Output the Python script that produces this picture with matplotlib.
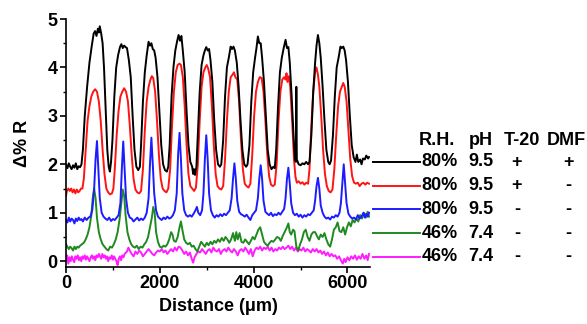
import matplotlib
matplotlib.use("Agg")
import matplotlib.pyplot as plt
from matplotlib.lines import Line2D
from matplotlib.ticker import MultipleLocator

plt.rcParams["font.family"] = ["Liberation Sans", "DejaVu Sans"]
plt.rcParams["font.weight"] = "bold"

# ---- reflectance profiles (distance in um, delta %R) ----
black_x = [0, 30, 60, 90, 120, 150, 180, 210, 240, 270, 300, 330,
           360, 400, 450, 500, 550, 590, 620, 650, 680, 700, 720, 750, 780, 810, 850, 880, 910, 935, 960,
           990, 1030, 1070, 1110, 1150, 1180, 1210, 1240, 1270, 1300, 1340, 1380, 1420, 1460, 1500, 1540, 1575,
           1600, 1640, 1680, 1720, 1760, 1790, 1820, 1850, 1880, 1910, 1950, 1990, 2030, 2070, 2110, 2150, 2180,
           2210, 2250, 2290, 2330, 2370, 2400, 2430, 2460, 2490, 2530, 2570, 2610, 2650, 2690, 2710, 2730, 2750, 2780,
           2810, 2850, 2890, 2930, 2960, 2990, 3020, 3050, 3080, 3120, 3160, 3200, 3240, 3280, 3310,
           3350, 3390, 3430, 3470, 3510, 3540, 3570, 3600, 3640, 3680, 3720, 3760, 3800, 3840, 3870,
           3910, 3950, 3990, 4030, 4060, 4090, 4120, 4150, 4180, 4220, 4260, 4300, 4340, 4380, 4420, 4450,
           4480, 4520, 4560, 4600, 4640, 4680, 4710, 4740, 4770, 4810, 4850, 4880, 4900, 4910, 4920, 4960, 5000,
           5040, 5080, 5120, 5160,
           5190, 5230, 5270, 5310, 5340, 5370, 5400, 5430, 5470, 5510, 5550, 5590, 5620, 5650,
           5690, 5730, 5770, 5810, 5850, 5880, 5910, 5940, 5970, 6010, 6050, 6090, 6130, 6170, 6200, 6230,
           6270, 6300, 6330, 6370, 6400, 6440, 6460]
black_y = [2.0, 1.92, 2.02, 1.95, 1.9, 1.98, 1.93, 2.02, 1.9, 1.96, 1.94, 2.0,
           2.3, 3.0, 3.6, 4.1, 4.45, 4.7, 4.75, 4.65, 4.8, 4.72, 4.85, 4.7, 4.5, 4.0, 3.0, 2.3, 1.95, 1.85, 2.05,
           2.5, 3.4, 4.0, 4.25, 4.42, 4.48, 4.4, 4.45, 4.42, 4.4, 4.15, 3.8, 3.0, 2.3, 1.95, 1.88, 1.95,
           2.4, 3.3, 3.9, 4.25, 4.53, 4.45, 4.5, 4.38, 4.35, 4.2, 3.8, 3.1, 2.4, 2.0, 1.88, 1.85, 1.95,
           2.4, 3.4, 4.0, 4.35, 4.55, 4.67, 4.55, 4.65, 4.35, 3.9, 3.1, 2.4, 2.05, 1.95, 1.8, 1.9, 1.78, 1.95,
           2.6, 3.5, 4.05, 4.25, 4.35, 4.42, 4.35, 4.38, 4.15, 3.7, 2.9, 2.3, 2.0, 1.95, 2.0,
           2.5, 3.4, 4.0, 4.2, 4.43, 4.38, 4.43, 4.35, 4.1, 3.6, 2.9, 2.3, 2.0, 1.95, 2.0,
           2.4, 3.3, 3.9, 4.2, 4.4, 4.64, 4.5, 4.5, 4.2, 3.7, 3.0, 2.3, 2.0, 1.9, 1.95, 1.92,
           2.3, 3.2, 3.9, 4.2, 4.4, 4.57, 4.4, 4.42, 4.1, 3.4, 2.6, 2.1, 2.05, 3.6, 2.1, 2.0, 1.98,
           2.02, 2.0, 2.05, 2.0,
           2.05, 2.6, 3.5, 4.1, 4.45, 4.67, 4.5, 4.2, 3.6, 2.9, 2.3, 2.05, 2.0, 2.08,
           2.6, 3.4, 4.0, 4.2, 4.43, 4.4, 4.43, 4.35, 4.15, 3.7, 3.0, 2.4, 2.15, 2.05, 2.2, 2.05,
           2.1, 2.0, 2.12, 2.1, 2.18, 2.12, 2.15]

red_x = [0, 20, 50, 80, 110, 140, 170, 200, 230, 260, 290, 320, 350,
         380, 420, 460, 500, 540, 580, 620, 660, 700, 740, 780, 820, 860, 900, 940, 980, 1010,
         1040, 1080, 1120, 1160, 1200, 1240, 1280, 1320, 1360, 1400, 1440, 1480, 1520, 1560, 1600,
         1640, 1680, 1720, 1760, 1800, 1830, 1860, 1900, 1940, 1980, 2020, 2060, 2100, 2140, 2180,
         2220, 2260, 2300, 2340, 2380, 2420, 2450, 2490, 2530, 2570, 2610, 2650, 2690, 2730, 2770,
         2810, 2850, 2890, 2930, 2970, 3000, 3030, 3070, 3110, 3150, 3190, 3230, 3270, 3310, 3350,
         3390, 3430, 3470, 3510, 3550, 3580, 3610, 3650, 3690, 3730, 3770, 3810, 3850, 3890, 3930,
         3970, 4010, 4050, 4090, 4130, 4170, 4210, 4250, 4290, 4330, 4370, 4410, 4450,
         4490, 4530, 4570, 4610, 4650, 4680, 4700, 4720, 4750, 4780, 4820, 4860, 4890, 4920, 4960, 5000,
         5040, 5080, 5120, 5160,
         5190, 5230, 5270, 5310, 5340, 5370, 5400, 5440, 5480, 5520, 5560, 5600, 5640, 5680,
         5720, 5760, 5800, 5840, 5880, 5910, 5940, 5980, 6020, 6060, 6100, 6140, 6180, 6220, 6260,
         6300, 6340, 6380, 6420, 6460]
red_y = [1.35, 1.45, 1.5, 1.45, 1.5, 1.42, 1.48, 1.4, 1.48, 1.42, 1.45, 1.5, 1.5,
         1.7, 2.3, 2.9, 3.2, 3.4, 3.5, 3.55, 3.5, 3.3, 2.9, 2.3, 1.8, 1.5, 1.42, 1.38, 1.4, 1.5,
         1.9, 2.6, 3.1, 3.4, 3.5, 3.57, 3.5, 3.3, 2.8, 2.2, 1.7, 1.48, 1.42, 1.4, 1.45,
         1.9, 2.7, 3.3, 3.6, 3.75, 3.82, 3.78, 3.5, 2.9, 2.2, 1.7, 1.5, 1.45, 1.42, 1.5,
         1.9, 2.8, 3.5, 3.9, 4.05, 4.08, 4.05, 3.8, 3.2, 2.4, 1.8, 1.55, 1.5, 1.45, 1.52,
         2.0, 2.9, 3.6, 3.9, 4.0, 4.05, 3.98, 3.8, 3.2, 2.4, 1.8, 1.55, 1.5, 1.48, 1.55,
         2.1, 2.9, 3.5, 3.8, 3.85, 3.9, 3.8, 3.75, 3.3, 2.5, 1.9, 1.6, 1.55, 1.52, 1.6,
         2.2, 3.0, 3.5, 3.7, 3.8, 3.78, 3.5, 2.9, 2.2, 1.75, 1.58, 1.55, 1.58,
         2.0, 2.9, 3.5, 3.75, 3.8, 3.75, 3.88, 3.7, 3.82, 3.6, 2.9, 2.1, 1.75, 1.62, 1.65, 1.6,
         1.63, 1.58, 1.62, 1.6,
         1.9, 2.8, 3.5, 3.9, 4.0, 3.85, 3.6, 3.0, 2.3, 1.8, 1.55, 1.45, 1.42, 1.48,
         1.9, 2.6, 3.2, 3.5, 3.6, 3.68, 3.6, 3.3, 2.7, 2.1, 1.75, 1.62, 1.6, 1.62, 1.55,
         1.6, 1.62, 1.58, 1.62, 1.6]

blue_x = [0, 30, 60, 90, 120, 150, 180, 210, 240, 270, 300, 330, 360, 400, 440, 480, 520, 560, 600, 630,
          660, 690, 720, 760, 800, 840, 880, 920, 960, 1000, 1040, 1080, 1120, 1160, 1190, 1220, 1250, 1280,
          1320, 1360, 1400, 1440, 1480, 1520, 1560, 1600, 1640, 1680, 1720, 1760, 1790, 1820, 1850, 1880,
          1920, 1960, 2000, 2040, 2080, 2120, 2160, 2200, 2240, 2280, 2320, 2360, 2390, 2420, 2450, 2480,
          2520, 2560, 2600, 2640, 2680, 2720, 2760, 2790, 2820, 2860, 2900, 2930, 2960, 2990, 3020, 3050,
          3090, 3130, 3170, 3210, 3250, 3290, 3330, 3370, 3410, 3450, 3490, 3530, 3560, 3590, 3620, 3650,
          3690, 3730, 3770, 3810, 3850, 3890, 3930, 3970, 4010, 4050, 4090, 4120, 4150, 4180, 4210, 4250,
          4290, 4330, 4370, 4410, 4450, 4490, 4530, 4570, 4610, 4650, 4680, 4710, 4740, 4770, 4800, 4840,
          4880, 4920, 4960, 5000, 5040, 5080, 5120, 5160, 5200, 5240, 5280, 5310, 5340, 5370, 5400, 5430,
          5470, 5510, 5550, 5590, 5630, 5670, 5710, 5750, 5790, 5830, 5860, 5890, 5920, 5950, 5980, 6020,
          6060, 6100, 6140, 6180, 6220, 6260, 6300, 6340, 6370, 6400, 6430, 6460]
blue_y = [0.85, 0.8, 0.9, 0.82, 0.88, 0.85, 0.78, 0.88, 0.83, 0.9, 0.85, 0.87, 0.82, 0.9, 0.85, 0.9, 0.92, 1.05, 1.5, 2.1,
          2.48, 1.9, 1.3, 1.0, 0.92, 0.88, 0.85, 0.9, 0.83, 0.87, 0.85, 0.9, 0.95, 1.2, 1.9, 2.47, 1.9, 1.3,
          1.0, 0.9, 0.88, 0.82, 0.86, 0.9, 0.84, 0.88, 0.85, 0.9, 1.0, 1.3, 2.0, 2.55, 2.0, 1.4,
          1.05, 0.92, 0.88, 0.85, 0.9, 0.87, 0.92, 0.88, 0.9, 0.95, 1.05, 1.4, 2.2, 2.65, 2.1, 1.4,
          1.05, 0.95, 0.92, 0.95, 0.92, 0.98, 1.05, 1.12, 1.0, 0.95, 1.05, 1.4, 2.1, 2.6, 2.1, 1.4,
          1.05, 0.95, 0.9, 0.95, 0.92, 0.97, 0.93, 0.98, 0.95, 1.0, 1.05, 1.3, 1.7, 2.02, 1.7, 1.25,
          1.02, 0.97, 0.95, 0.92, 0.96, 0.9, 0.85, 0.95, 1.0, 1.05, 1.3, 1.7, 1.98, 1.7, 1.25, 1.02,
          0.98, 0.95, 1.0, 0.93, 0.97, 0.95, 1.0, 0.96, 1.02, 1.08, 1.3, 1.7, 1.93, 1.6, 1.2, 1.0,
          0.95, 0.98, 0.92, 0.96, 0.9, 0.95, 0.92, 0.97, 0.95, 1.0, 1.05, 1.25, 1.55, 1.72, 1.5, 1.15,
          1.0, 0.92, 0.88, 0.9, 0.86, 0.92, 0.9, 0.95, 0.92, 1.0, 1.2, 1.6, 2.0, 1.6, 1.2, 0.98,
          0.92, 0.88, 0.9, 0.86, 0.95, 0.88, 0.92, 1.0, 0.9, 0.98, 0.92, 1.0]

green_x = [0, 30, 60, 90, 120, 150, 180, 210, 240, 270, 300, 340, 380, 420, 460, 500, 540, 570, 600, 630,
           660, 700, 740, 780, 820, 860, 900, 940, 980, 1020, 1060, 1100, 1140, 1180, 1210, 1240, 1270, 1310,
           1350, 1390, 1430, 1470, 1510, 1550, 1590, 1630, 1670, 1710, 1750, 1790, 1830, 1860, 1890, 1920,
           1960, 2000, 2040, 2080, 2120, 2160, 2200, 2240, 2270, 2300, 2340, 2380, 2420, 2450, 2480, 2520,
           2560, 2600, 2640, 2680, 2720, 2760, 2800, 2840, 2880, 2920, 2960, 3000, 3040, 3080, 3120, 3160,
           3200, 3240, 3280, 3320, 3360, 3400, 3440, 3480, 3520, 3560, 3600, 3630, 3660, 3700, 3740, 3780,
           3820, 3860, 3900, 3940, 3980, 4020, 4060, 4100, 4140, 4180, 4220, 4260, 4300, 4340, 4380, 4420,
           4460, 4500, 4540, 4580, 4620, 4660, 4700, 4740, 4770, 4800, 4840, 4870, 4910, 4950, 4990, 5030,
           5070, 5110, 5150, 5190, 5230, 5270, 5310, 5350, 5390, 5430, 5470, 5510, 5550, 5590, 5630, 5670,
           5710, 5750, 5790, 5830, 5870, 5910, 5950, 5990, 6030, 6070, 6110, 6150, 6190, 6230, 6270, 6310,
           6350, 6390, 6430, 6460]
green_y = [0.35, 0.3, 0.25, 0.3, 0.27, 0.22, 0.3, 0.25, 0.3, 0.28, 0.32, 0.35, 0.38, 0.45, 0.55, 0.7, 0.95, 1.3, 1.5, 1.3,
           0.9, 0.6, 0.45, 0.35, 0.3, 0.25, 0.22, 0.3, 0.28, 0.35, 0.45, 0.6, 0.85, 1.2, 1.48, 1.35, 0.95, 0.6,
           0.45, 0.35, 0.3, 0.28, 0.32, 0.25, 0.3, 0.28, 0.35, 0.4, 0.5, 0.7, 0.9, 1.12, 1.0, 0.6,
           0.4, 0.3, 0.28, 0.32, 0.3, 0.35, 0.45, 0.6, 0.55, 0.42, 0.4, 0.5, 0.7, 0.82, 0.65, 0.45,
           0.38, 0.35, 0.38, 0.3, 0.32, 0.25, 0.2, 0.3, 0.4, 0.35, 0.3, 0.38, 0.33, 0.4, 0.35, 0.42,
           0.38, 0.45, 0.4, 0.48, 0.42, 0.5, 0.45, 0.38, 0.45, 0.58, 0.42, 0.6, 0.45, 0.58, 0.4, 0.38,
           0.45, 0.4, 0.35, 0.42, 0.5, 0.45, 0.55, 0.65, 0.7, 0.55, 0.4, 0.35, 0.32, 0.38, 0.42, 0.4,
           0.45, 0.5, 0.48, 0.42, 0.52, 0.6, 0.68, 0.78, 0.6, 0.55, 0.65, 0.62, 0.3, 0.22, 0.35, 0.45,
           0.6, 0.65, 0.5, 0.42, 0.55, 0.6, 0.6, 0.52, 0.45, 0.55, 0.5, 0.58, 0.45, 0.35, 0.3, 0.45,
           0.65, 0.7, 0.8, 0.62, 0.6, 0.7, 0.55, 0.7, 0.8, 0.72, 0.85, 0.8, 0.88, 0.82, 0.95, 0.88,
           1.0, 0.9, 1.02, 0.92]

magenta_x = [0, 25, 50, 75, 100, 125, 150, 175, 200, 225, 250, 275, 300, 325, 350, 375, 400, 425, 450, 475,
             500, 525, 550, 575, 600, 625, 650, 675, 700, 725, 750, 775, 800, 825, 850, 875, 900, 925, 950, 975,
             1000, 1025, 1050, 1075, 1100, 1125, 1150, 1175, 1200, 1225, 1250, 1300, 1330, 1360, 1400, 1440,
             1480, 1520, 1560, 1600, 1640, 1680, 1720, 1760, 1800, 1840, 1880, 1920, 1960, 2000, 2040, 2080,
             2120, 2160, 2200, 2240, 2280, 2320, 2360, 2400, 2440, 2480, 2520, 2560, 2600, 2640, 2680, 2710,
             2740, 2780, 2820, 2860, 2900, 2940, 2980, 3020, 3060, 3100, 3140, 3180, 3220, 3260, 3300, 3340,
             3380, 3420, 3460, 3500, 3540, 3580, 3620, 3660, 3700, 3740, 3780, 3820, 3860, 3900, 3940, 3980,
             4020, 4060, 4100, 4140, 4180, 4220, 4260, 4300, 4340, 4380, 4420, 4460, 4500, 4540, 4580, 4620,
             4660, 4700, 4740, 4780, 4820, 4860, 4900, 4940, 4980, 5020, 5060, 5100, 5140, 5180, 5220, 5260,
             5300, 5340, 5380, 5420, 5460, 5500, 5540, 5580, 5620, 5660, 5700, 5740, 5780, 5820, 5860, 5900,
             5930, 5960, 6000, 6040, 6080, 6120, 6160, 6200, 6240, 6280, 6320, 6360, 6400, 6430, 6460]
magenta_y = [0.02, 0.12, -0.05, 0.08, 0.0, 0.1, 0.03, -0.02, 0.1, 0.05, 0.12, 0.02, 0.08, 0.0, 0.1, 0.05, 0.12, 0.03, 0.1, 0.05,
             0.0, 0.08, 0.12, 0.05, 0.1, 0.02, 0.12, 0.08, 0.15, 0.1, 0.05, 0.15, 0.08, 0.12, 0.05, 0.1, 0.0, 0.08, 0.05, 0.12,
             0.03, 0.1, 0.05, 0.0, -0.08, 0.05, 0.1, 0.02, 0.12, 0.08, 0.15, 0.2, 0.28, 0.22, 0.15, 0.1,
             0.2, 0.15, 0.22, 0.18, 0.1, 0.15, 0.2, 0.25, 0.2, 0.15, 0.12, 0.18, 0.22, 0.2, 0.25, 0.18,
             0.22, 0.15, 0.2, 0.25, 0.2, 0.28, 0.22, 0.3, 0.28, 0.22, 0.15, 0.2, 0.12, 0.18, 0.05, -0.03,
             0.08, 0.15, 0.2, 0.18, 0.25, 0.2, 0.15, 0.22, 0.25, 0.18, 0.28, 0.22, 0.2, 0.25, 0.15, 0.22,
             0.25, 0.2, 0.28, 0.22, 0.18, 0.25, 0.2, 0.12, 0.22, 0.25, 0.2, 0.28, 0.22, 0.15, 0.25, 0.1,
             0.22, 0.28, 0.25, 0.3, 0.22, 0.28, 0.25, 0.3, 0.22, 0.28, 0.2, 0.25, 0.22, 0.28, 0.25, 0.3,
             0.25, 0.28, 0.32, 0.25, 0.3, 0.22, 0.28, 0.2, 0.25, 0.22, 0.28, 0.2, 0.25, 0.22, 0.18, 0.25,
             0.2, 0.25, 0.18, 0.22, 0.15, 0.2, 0.12, 0.18, 0.1, 0.15, 0.1, 0.12, 0.05, 0.1, 0.02, -0.05,
             0.05, -0.02, 0.08, 0.02, 0.1, 0.05, 0.12, 0.03, 0.1, 0.05, 0.15, 0.05, 0.12, 0.02, 0.15]

# legend table: relative humidity, pH, Tween-20, DMF
rh_labels = ["80%", "80%", "80%", "46%", "46%"]
ph_labels = ["9.5", "9.5", "9.5", "7.4", "7.4"]
t20_labels = ["+", "+", "-", "-", "-"]
dmf_labels = ["+", "-", "-", "-", "-"]
header = ["R.H.", "pH", "T-20", "DMF"]

series = [(black_x, black_y, "black"),
          (red_x, red_y, "#ff1414"),
          (blue_x, blue_y, "#1c1cff"),
          (green_x, green_y, "#1f8a1f"),
          (magenta_x, magenta_y, "#ff1cff")]

W, H = 587, 324
fig = plt.figure(figsize=(W / 100, H / 100), dpi=100)
ax = fig.add_axes([66 / W, 57 / H, 304 / W, 248 / H])

for x, y, c in series[::-1]:
    ax.plot(x, y, color=c, lw=1.4)

ax.set_xlim(0, 6480)
ax.set_ylim(-0.12, 5.0)
ax.xaxis.set_major_locator(MultipleLocator(2000))
ax.xaxis.set_minor_locator(MultipleLocator(1000))
ax.yaxis.set_major_locator(MultipleLocator(1))
ax.yaxis.set_minor_locator(MultipleLocator(0.5))
ax.spines["top"].set_visible(False)
ax.spines["right"].set_visible(False)
for s in ("left", "bottom"):
    ax.spines[s].set_linewidth(1.2)
ax.tick_params(which="major", direction="out", length=4, width=1.2, labelsize=13, pad=2)
ax.tick_params(which="minor", direction="out", length=2.5, width=1.0)
ax.set_xlabel("Distance (\u03bcm)", fontsize=13, fontweight="bold", labelpad=4)
ax.set_ylabel("\u0394% R", fontsize=13, fontweight="bold", labelpad=12)

# table-style legend on the right
def fy(py):
    return 1 - py / H

hx = [437, 481, 522, 566]
for lab, px in zip(header, hx):
    fig.text(px / W, fy(141), lab, ha="center", va="center", fontsize=13, fontweight="bold")

for i, (x, y, c) in enumerate(series):
    py = 162 + 23.7 * i
    fig.add_artist(Line2D([373 / W, 420 / W], [fy(py), fy(py)], color=c, lw=1.4,
                          transform=fig.transFigure))
    fig.text(440 / W, fy(py), rh_labels[i], ha="center", va="center", fontsize=13, fontweight="bold")
    fig.text(481 / W, fy(py), ph_labels[i], ha="center", va="center", fontsize=13, fontweight="bold")
    fig.text(517 / W, fy(py), t20_labels[i], ha="center", va="center", fontsize=13, fontweight="bold")
    fig.text(568 / W, fy(py), dmf_labels[i], ha="center", va="center", fontsize=13, fontweight="bold")

fig.savefig("out.png", dpi=100)
